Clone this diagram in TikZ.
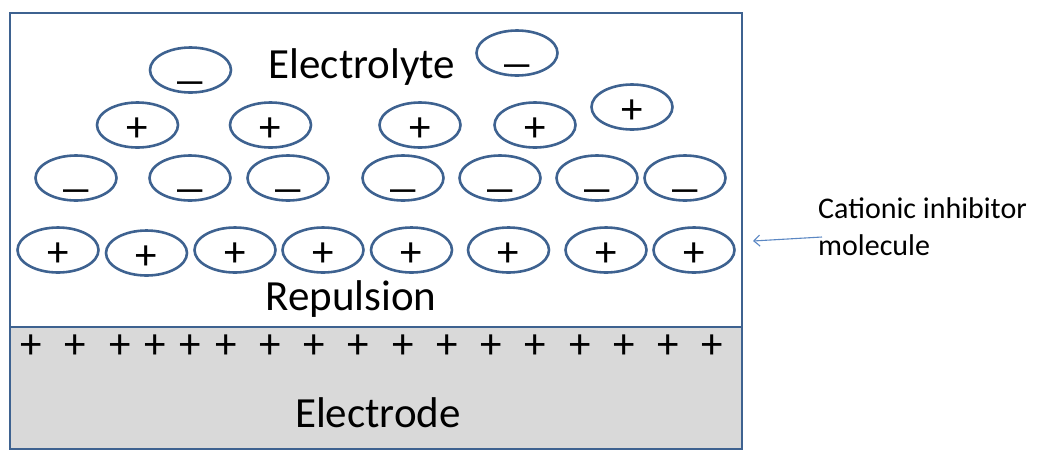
\documentclass[tikz,border=0pt]{standalone}
\usepackage{fontspec}
\setmainfont{Carlito}
\usetikzlibrary{shapes.geometric,arrows.meta}
\definecolor{frameblue}{HTML}{3E6290}
\definecolor{arrowblue}{HTML}{5B87C3}
\definecolor{electrodegray}{HTML}{D9D9D9}
\tikzset{
  ion/.style={ellipse, draw=frameblue, line width=2.6pt, minimum width=81pt, minimum height=45pt, inner sep=0pt, text height=0pt, text depth=0pt, font=\fontsize{43}{43}\selectfont},
  cation/.style={ion, node contents={\raisebox{-16pt}{+}}},
  anion/.style={ion, node contents={\raisebox{-24pt}{\scalebox{1.65}[0.95]{–}}}},
  surfplus/.style={inner sep=0pt, text height=0pt, text depth=0pt, font=\fontsize{43}{43}\selectfont, node contents={\raisebox{-14pt}{+}}},
  bigtext/.style={anchor=base, inner sep=0pt, font=\fontsize{43}{50}\selectfont},
  sidetext/.style={anchor=base west, inner sep=0pt, align=left, font=\fontsize{30}{37}\selectfont},
}
\begin{document}
\begin{tikzpicture}[x=1pt,y=-1pt]
\useasboundingbox (0,0) rectangle (1043,451);
% regions
\fill[electrodegray] (10,327) rectangle (742,449);
\draw[frameblue, line width=2.6pt] (10,13) rectangle (742,449);
\draw[frameblue, line width=2.6pt] (10,327) -- (742,327);
% texts
\node[bigtext] (electrolyte) at (362,78) {Electrolyte};
\node[bigtext] (repulsion) at (351,310) {Repulsion};
\node[bigtext] (electrode) at (378,427) {Electrode};
% top anions
\node (a1) at (190.5,70) [anion];
\node (a2) at (517,53) [anion];
% second row cations
\node (c1) at (137.5,125) [cation];
\node (c2) at (270.5,125) [cation];
\node (c3) at (420,125) [cation];
\node (c4) at (535,125) [cation];
\node (c5) at (632,107) [cation];
% third row anions
\node (a3) at (76,178) [anion];
\node (a4) at (190,178) [anion];
\node (a5) at (288,178) [anion];
\node (a6) at (403,178) [anion];
\node (a7) at (500,178) [anion];
\node (a8) at (597,178) [anion];
\node (a9) at (685,178) [anion];
% inhibitor row
\node (i1) at (58,250) [cation];
\node (i2) at (146.5,253) [cation];
\node (i3) at (235,250) [cation];
\node (i4) at (323,250) [cation];
\node (i5) at (411.5,250) [cation];
\node (i6) at (508.5,250) [cation];
\node (i7) at (606,250) [cation];
\node (i8) at (694,250) [cation];
% electrode surface charges
\foreach \x [count=\k] in {31,75,120,155,190,226,270,314,358,403,447,491,535,580,624,668,712}
  \node (s\k) at (\x,344) [surfplus];
% side label and arrow
\node[sidetext] (label) at (818,255) {Cationic inhibitor\\molecule};
\coordinate (arrstart) at (822,237);
\coordinate (arrend) at (753,241);
\draw[arrowblue, line width=1.1pt, -{Straight Barb[length=6pt,width=11pt]}] (arrstart) -- (arrend);
\end{tikzpicture}
\end{document}
